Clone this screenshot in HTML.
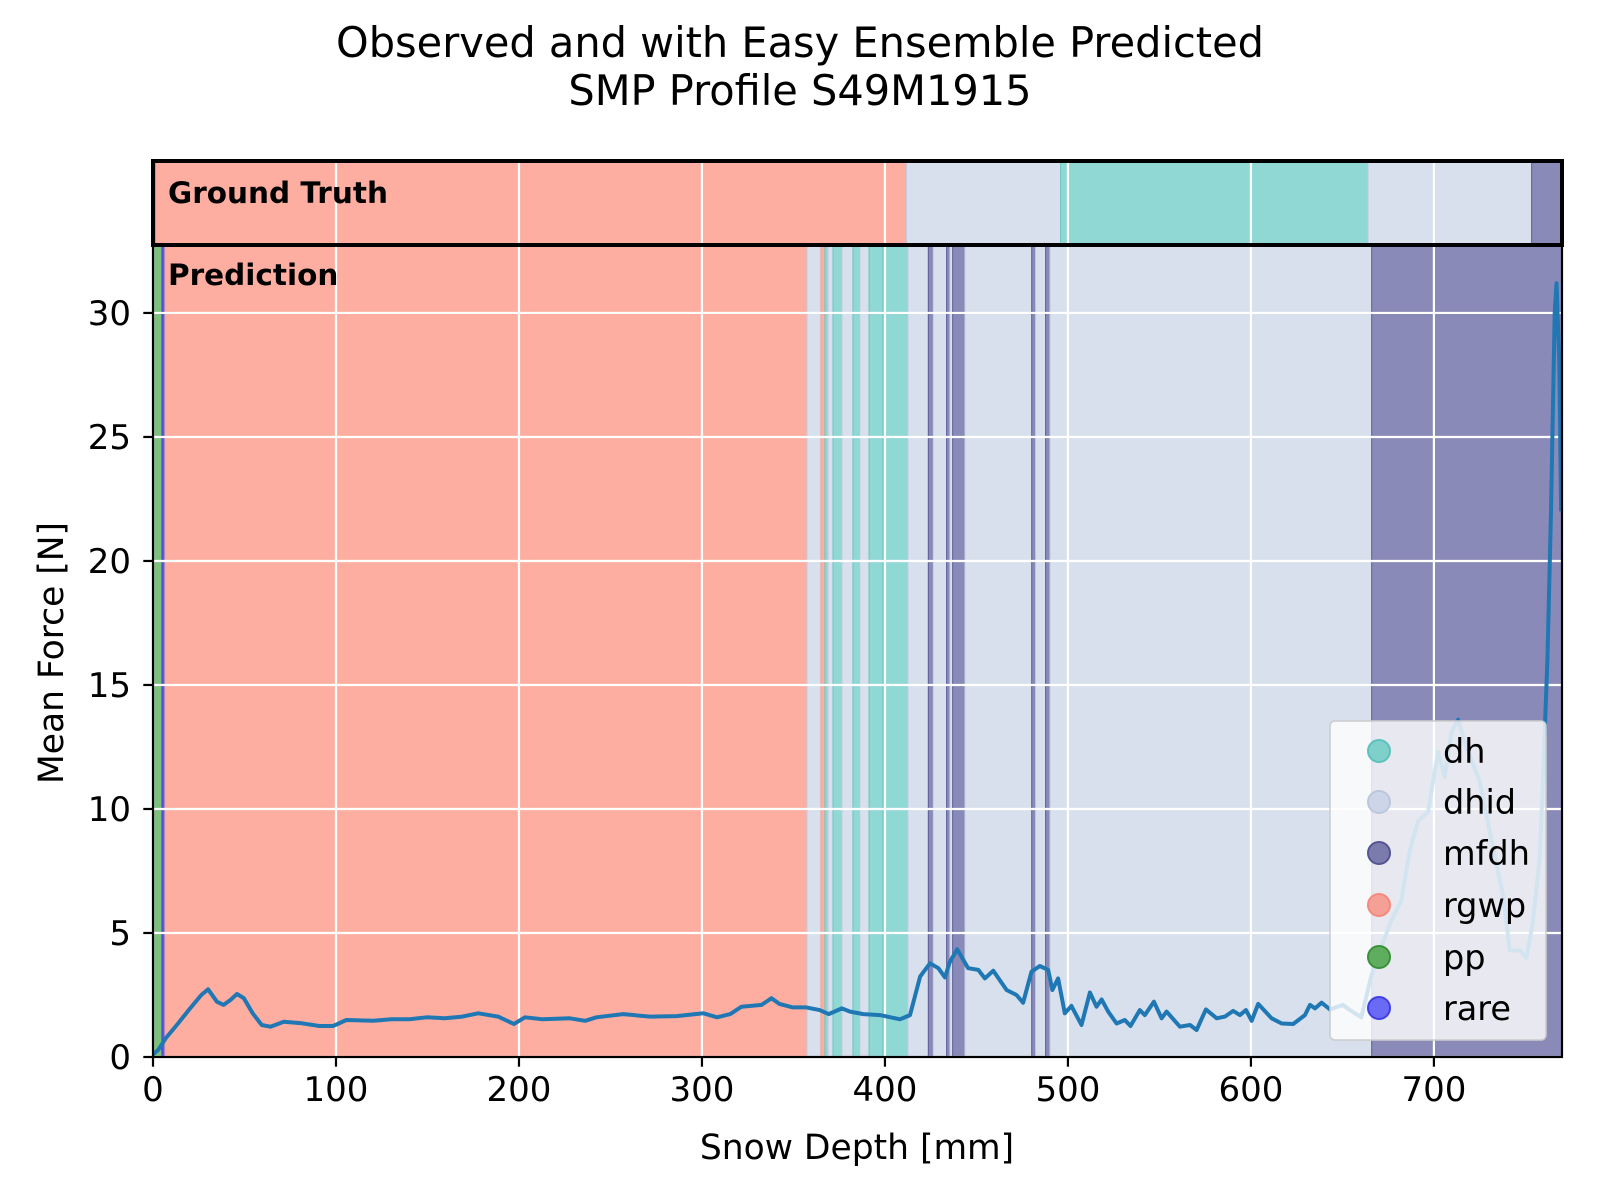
<!DOCTYPE html>
<html><head><meta charset="utf-8"><style>
html,body{margin:0;padding:0;background:#fff;}
svg{display:block;font-family:"DejaVu Sans","Liberation Sans",sans-serif;}
</style></head><body>
<svg id="chart" width="1600" height="1200" viewBox="0 0 1600 1200" xmlns="http://www.w3.org/2000/svg">
<rect width="1600" height="1200" fill="#fff"/>
<text x="800" y="57" font-size="41.5" text-anchor="middle">Observed and with Easy Ensemble Predicted</text>
<text x="800" y="105" font-size="41.5" text-anchor="middle">SMP Profile S49M1915</text>
<g id="bands"></g>
<g id="gtbands"></g>
<g id="grid"></g>
<g id="series"></g>
<g id="legend"></g>
<g id="axes"></g>
</svg>
<script>
const gtClass = ['rare','rgwp','dhid','dh','dhid','mfdh'];
const gtStart = [0, 1.5, 411.8, 496, 664, 753.4];
const gtEnd   = [1.5, 411.8, 496, 664, 753.4, 770];
const predClass = ['pp','rare','rgwp','dhid','rgwp','dh','dhid','dh','dhid','dh','dhid','dh','dh','dhid','mfdh','dhid','mfdh','dhid','mfdh','dhid','mfdh','dhid','mfdh','dhid','mfdh'];
const predStart = [0, 4.9, 6.5, 357.4, 365, 367.2, 368.9, 371.6, 376.5, 382.5, 386.3, 391.3, 398.9, 412.6, 423.7, 426.4, 433.7, 435.5, 437, 443.7, 480.2, 482.3, 487.8, 490.2, 666];
const predEnd   = [4.9, 6.5, 357.4, 365, 367.2, 368.9, 371.6, 376.5, 382.5, 386.3, 391.3, 398.9, 412.6, 423.7, 426.4, 433.7, 435.5, 437, 443.7, 480.2, 482.3, 487.8, 490.2, 666, 770];
const depth = [0,3,6.9,13,20.3,26.4,30.1,34.9,38.6,42.3,45.9,49.6,54.5,59.4,64.2,71.5,81.3,91,98.4,105.7,120.3,130.1,139.9,149.6,159.4,169.1,177.7,188.6,197.2,203.3,213,227.7,236.2,242.3,256.9,271.6,286.2,300.8,308.2,315.5,321.6,332.6,338,342.3,349.7,357,364.3,369.2,376.5,380.9,388.2,397.3,408.2,413.7,419.2,424.6,429.2,432.8,435.5,439.5,445.5,451,454.6,459.2,466.5,471.9,475.5,480.1,484.6,489.2,491.5,494.6,498.3,501.9,507.4,512,515.6,518.4,522,526.6,531.1,534.2,539.3,542,547,551.2,553.9,561.2,566.7,570.3,575.4,581.3,585.8,590.3,594,597.3,600.4,604,611.3,616.8,623.1,629.5,632.3,635,638.6,643.2,650.3,653.9,660.3,665.8,670.3,676.7,682.2,686.7,691.3,696.8,699.5,702.3,705.9,709.6,713.2,717.8,725,730.5,737.8,741.5,747,750.6,754.2,757.9,760,762,764,766,767,768.5,769.5];
const force = [0.1,0.3,0.75,1.29,1.96,2.5,2.73,2.23,2.1,2.3,2.54,2.37,1.76,1.29,1.22,1.42,1.36,1.25,1.25,1.49,1.46,1.52,1.52,1.6,1.56,1.63,1.76,1.63,1.33,1.6,1.52,1.56,1.46,1.6,1.73,1.63,1.65,1.76,1.6,1.73,2.03,2.1,2.37,2.14,2.0,2.0,1.89,1.73,1.96,1.83,1.73,1.69,1.52,1.69,3.24,3.78,3.58,3.21,3.84,4.34,3.58,3.51,3.17,3.48,2.7,2.5,2.19,3.44,3.67,3.51,2.7,3.17,1.76,2.06,1.29,2.6,2.03,2.32,1.83,1.35,1.49,1.25,1.89,1.69,2.23,1.56,1.83,1.22,1.29,1.09,1.92,1.56,1.63,1.86,1.69,1.89,1.46,2.14,1.56,1.35,1.33,1.69,2.1,1.96,2.19,1.92,2.1,1.9,1.6,3.27,4.25,5.5,6.3,8.3,9.5,9.9,11.1,12.3,11.3,13.1,13.6,12.5,11.1,9.1,6.5,4.3,4.3,4.0,5.5,8.1,12,16,22,30,31.2,28,22];
const xTicks = [0,100,200,300,400,500,600,700];
const yTicks = [0,5,10,15,20,25,30];
const legendLabels = ['dh','dhid','mfdh','rgwp','pp','rare'];

const NS='http://www.w3.org/2000/svg';
const L=153, R=1562, T=245, B=1057, GT_T=161;
const XMAX=770, YMAX=32.74;
function xs(v){return L+(v/XMAX)*(R-L);}
function ys(v){return B-(v/YMAX)*(B-T);}
const fill={dh:'#90d8d4',dhid:'#d7e0ec',mfdh:'#8a8ab8',rgwp:'#feaea1',pp:'#7dbf7d',rare:'#5c5ce6'};
const edge={dh:'#6cc6c0',dhid:'#c3cbe0',mfdh:'#5c5c98',rgwp:'#eea598',pp:'#5aa85a',rare:'#4040d0'};
const mk={dh:'#7fcfcb',dhid:'#cdd6e8',mfdh:'#7b7bad',rgwp:'#f5a096',pp:'#5fae5f',rare:'#6a6af5'};
const mkE={dh:'#5dc2bc',dhid:'#bcc7dc',mfdh:'#55558f',rgwp:'#f48a7c',pp:'#3a913a',rare:'#3f3fe8'};
function el(tag,attrs,parent){const e=document.createElementNS(NS,tag);for(const k in attrs)e.setAttribute(k,attrs[k]);parent.appendChild(e);return e;}

const bands=document.getElementById('bands');
for(let i=0;i<predClass.length;i++){
  const x0=xs(predStart[i]),x1=xs(predEnd[i]);
  const r=el('rect',{x:x0,y:T,width:Math.max(x1-x0,0.5),height:B-T,fill:fill[predClass[i]],stroke:edge[predClass[i]],'stroke-width':1},bands);
  
  
}
const gtb=document.getElementById('gtbands');
for(let i=0;i<gtClass.length;i++){
  const x0=xs(gtStart[i]),x1=xs(gtEnd[i]);
  const r=el('rect',{x:x0,y:GT_T,width:Math.max(x1-x0,0.5),height:T-GT_T,fill:fill[gtClass[i]],stroke:edge[gtClass[i]],'stroke-width':1},gtb);
  
  
}
const grid=document.getElementById('grid');
xTicks.forEach(t=>{
  const g=el('line',{x1:xs(t),x2:xs(t),y1:GT_T,y2:B,stroke:'#fff','stroke-width':2.2},grid);
  
  
});
yTicks.forEach(t=>{
  const g=el('line',{x1:L,x2:R,y1:ys(t),y2:ys(t),stroke:'#fff','stroke-width':2.2},grid);
  
  
});
const series=document.getElementById('series');
const cp=el('clipPath',{id:'plotclip'},series);
el('rect',{x:L,y:T,width:R-L,height:B-T},cp);
let d='';
for(let i=0;i<depth.length;i++){d+=(i?'L':'M')+xs(depth[i]).toFixed(1)+' '+ys(force[i]).toFixed(1);}
const line=el('path',{d:d,fill:'none',stroke:'#1f77b4','stroke-width':4,'stroke-linejoin':'round','clip-path':'url(#plotclip)'},series);



const lg=document.getElementById('legend');
const box=el('rect',{x:1330,y:721,width:216,height:319,rx:5,fill:'#fff','fill-opacity':0.8,stroke:'#cccccc','stroke-width':1.5},lg);


const rowY=[751,802,853,905,957,1008];
legendLabels.forEach((lab,i)=>{
  const c=el('circle',{cx:1379,cy:rowY[i],r:11,fill:mk[lab],stroke:mkE[lab],'stroke-width':2},lg);
  
  
  const t=el('text',{x:1443,y:rowY[i]+12,'font-size':33.5,fill:'#000'},lg);
  t.textContent=lab;
  
  
});

const ax=document.getElementById('axes');
const sp=el('rect',{x:L,y:T,width:R-L,height:B-T,fill:'none',stroke:'#000','stroke-width':2.2},ax);


const gb=el('rect',{x:L,y:GT_T,width:R-L,height:T-GT_T,fill:'none',stroke:'#000','stroke-width':4},ax);


const gtt=el('text',{x:168,y:203,'font-size':29.5,'font-weight':'bold'},ax);
gtt.textContent='Ground Truth';


const pt=el('text',{x:168,y:285,'font-size':29.5,'font-weight':'bold'},ax);
pt.textContent='Prediction';


xTicks.forEach(t=>{
  const tk=el('line',{x1:xs(t),x2:xs(t),y1:B,y2:B+9.7,stroke:'#000','stroke-width':2.2},ax);
  
  
  const lb=el('text',{x:xs(t),y:B+44,'font-size':34,'text-anchor':'middle'},ax);
  lb.textContent=String(t);
  
  
});
yTicks.forEach(t=>{
  const tk=el('line',{x1:L-9.7,x2:L,y1:ys(t),y2:ys(t),stroke:'#000','stroke-width':2.2},ax);
  
  
  const lb=el('text',{x:131,y:ys(t)+12,'font-size':34,'text-anchor':'end'},ax);
  lb.textContent=String(t);
  
  
});
const xl=el('text',{x:857,y:1159,'font-size':34.5,'text-anchor':'middle'},ax);
xl.textContent='Snow Depth [mm]';


const yl=el('text',{x:0,y:0,'font-size':34.5,'text-anchor':'middle',transform:'translate(63,653) rotate(-90)'},ax);
yl.textContent='Mean Force [N]';


</script>
</body></html>
